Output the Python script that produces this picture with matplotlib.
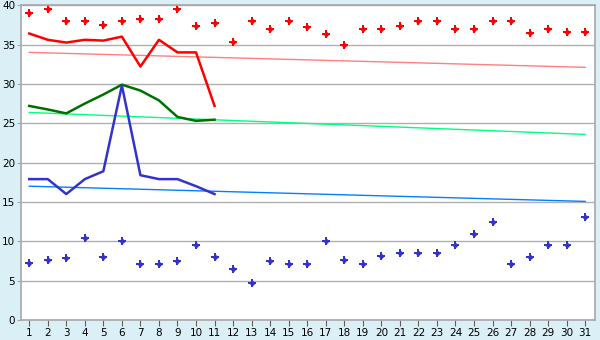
import matplotlib
matplotlib.use("Agg")
import matplotlib.pyplot as plt
import numpy as np

# days of the month
days = list(range(1, 32))

# upper scatter (red) and lower scatter (blue), one value per day
red_pts = [39.0, 39.45, 38.05, 38.05, 37.5, 38.05, 38.2, 38.2, 39.45, 37.3,
           37.7, 35.26, 38.05, 37.0, 38.05, 37.2, 36.4, 34.9, 37.0, 37.0,
           37.3, 38.05, 38.05, 37.0, 37.0, 38.05, 38.05, 36.5, 37.0, 36.65, 36.65]
blue_pts = [7.2, 7.58, 7.83, 10.37, 7.96, 10.0, 7.07, 7.07, 7.45, 9.48,
            7.96, 6.44, 4.66, 7.45, 7.07, 7.07, 10.0, 7.58, 7.07, 8.09,
            8.47, 8.47, 8.47, 9.48, 10.88, 12.4, 7.07, 7.96, 9.48, 9.48, 13.04]

# lines for the first 11 days
line_days = list(range(1, 12))
red_line = [36.4, 35.6, 35.25, 35.6, 35.5, 36.0, 32.2, 35.6, 34.0, 34.0, 27.2]
green_line = [27.2, 26.75, 26.25, 27.5, 28.65, 29.9, 29.15, 27.9, 25.8, 25.3, 25.45]
blue_line = [17.9, 17.9, 16.0, 17.9, 18.9, 29.8, 18.4, 17.9, 17.9, 17.0, 16.0]

# trend lines: value at day 1 and day 31
trend_red = [34.0, 32.1]
trend_green = [26.37, 23.58]
trend_blue = [17.0, 15.07]

fig = plt.figure(figsize=(6, 3.4), dpi=100)
fig.patch.set_facecolor("#daeff6")
ax = fig.add_axes([0.0345, 0.0588, 0.9575, 0.926])
ax.set_facecolor("white")

ends = [days[0], days[-1]]
ax.plot(ends, trend_red, color="#ff8080", lw=1)
ax.plot(ends, trend_green, color="#00ff80", lw=1)
ax.plot(ends, trend_blue, color="#0080ff", lw=1)

ax.plot(line_days, red_line, color="#ff0000", lw=1.8)
ax.plot(line_days, green_line, color="#007000", lw=1.8)
ax.plot(line_days, blue_line, color="#3333cc", lw=1.8)

# plus + small diamond gives the chunky point marker
for pts, c in [(red_pts, "#ff0000"), (blue_pts, "#3333cc")]:
    ax.plot(days, pts, ls="none", marker="P", ms=5.5, color=c, mew=0)
    ax.plot(days, pts, ls="none", marker="D", ms=3.2, color=c, mew=0)

ax.set_xlim(0.54, 31.54)
ax.set_ylim(0, 40)
ax.set_xticks(days)
ax.set_yticks(range(0, 41, 5))
ax.yaxis.grid(True, color="#b0b0b0", lw=1)
ax.set_axisbelow(True)
for s in ax.spines.values():
    s.set_color("#a8a8a8")
    s.set_linewidth(1.2)
ax.tick_params(axis="x", length=4, color="#606060", labelsize=7.5, pad=2)
ax.tick_params(axis="y", length=3, color="#a8a8a8", labelsize=7.5, pad=1)

fig.savefig("out.png", dpi=100, facecolor=fig.get_facecolor())
